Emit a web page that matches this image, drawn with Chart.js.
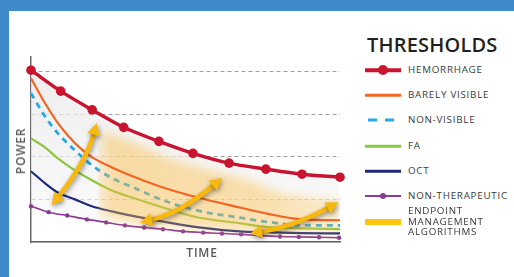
<!DOCTYPE html>
<html><head><meta charset="utf-8">
<script src="https://cdn.jsdelivr.net/npm/chart.js@4"></script>
<style>
html,body{margin:0;padding:0;width:514px;height:277px;overflow:hidden;background:#fff;font-family:"Open Sans",sans-serif;}
#topbar{position:absolute;left:0;top:0;width:514px;height:11px;background:#3F8BCA;}
#leftbar{position:absolute;left:0;top:0;width:9px;height:277px;background:#3F8BCA;}
#wrap{position:absolute;left:9px;top:11px;width:345px;height:240px;}
.ax{position:absolute;color:#58595b;font-weight:600;font-size:12px;letter-spacing:0.8px;white-space:nowrap;line-height:12px;}
#ytitle{left:21px;top:151px;transform:translate(-50%,-50%) rotate(-90deg);}
#xtitle{left:202px;top:253px;transform:translate(-50%,-50%);}
#ltitle{position:absolute;left:367px;top:33px;font-size:20px;font-weight:600;color:#231f20;letter-spacing:0.2px;line-height:24px;white-space:nowrap;}
.row{position:absolute;left:365px;height:20px;}
.sample{position:absolute;left:0;top:10px;width:36px;transform:translateY(-50%);}
.dot{position:absolute;border-radius:50%;transform:translate(-50%,-50%);top:10px;}
.lab{position:absolute;left:43px;top:10px;transform:translateY(-50%);font-size:9.8px;color:#3a3a3a;letter-spacing:0.75px;line-height:10.5px;white-space:nowrap;}
</style></head>
<body>
<div id="topbar"></div><div id="leftbar"></div>
<div id="wrap"><canvas id="c" width="345" height="240"></canvas></div>
<div class="ax" id="ytitle">POWER</div>
<div class="ax" id="xtitle">TIME</div>
<div id="ltitle">THRESHOLDS</div>
<div id="legend"></div>
<script>
// ---- data ----
const seriesLabels = ["HEMORRHAGE","BARELY VISIBLE","NON-VISIBLE","FA","OCT","NON-THERAPEUTIC","ENDPOINT<br>MANAGEMENT<br>ALGORITHMS"];
const timeHem = [0, 0.96, 1.98, 3.0, 4.14, 5.24, 6.41, 7.6, 8.77, 10];
const hemorrhage = [4.03, 3.54, 3.10, 2.69, 2.36, 2.08, 1.85, 1.71, 1.59, 1.52];
const timeCurve = [0, 0.45, 0.87, 1.42, 1.97, 2.62, 3.37, 4.27, 5.37, 6.76, 7.67, 8.77, 10];
const barelyVisible = [3.84, 3.26, 2.79, 2.32, 1.99, 1.75, 1.52, 1.28, 1.05, 0.81, 0.66, 0.53, 0.51];
const nonVisible = [3.49, 2.95, 2.55, 2.15, 1.80, 1.50, 1.26, 0.98, 0.74, 0.57, 0.47, 0.39, 0.39];
const fa = [2.43, 2.22, 1.96, 1.68, 1.45, 1.21, 1.02, 0.81, 0.58, 0.44, 0.35, 0.32, 0.30];
const oct = [1.66, 1.38, 1.16, 1.00, 0.84, 0.72, 0.60, 0.48, 0.35, 0.25, 0.23, 0.21, 0.20];
const timeNonTher = [0, 0.57, 1.17, 1.81, 2.43, 3.04, 3.66, 4.27, 4.92, 5.57, 6.18, 6.80, 7.44, 8.06, 8.67, 9.32, 9.97];
const nonTherapeutic = [0.84, 0.70, 0.62, 0.53, 0.46, 0.39, 0.34, 0.30, 0.25, 0.22, 0.20, 0.18, 0.15, 0.13, 0.12, 0.11, 0.10];
const timeBand = [2.17, 3.2, 4.27, 5.5, 6.76, 8.2, 10];
const bandUpper = [2.62, 2.38, 2.03, 1.75, 1.52, 1.15, 1.0];
const bandLower = [0.62, 0.47, 0.38, 0.31, 0.25, 0.20, 0.18];
const arrowTails = [[0.67, 0.86], [3.53, 0.46], [7.09, 0.20]];
const arrowMids  = [[1.59, 1.85], [4.85, 0.83], [8.51, 0.46]];
const arrowHeads = [[2.13, 2.79], [6.18, 1.50], [9.94, 0.93]];
const gridValues = [0, 1, 2, 3, 4];

const pts = (xs, ys) => xs.map((x, i) => ({x, y: ys[i]}));

const C = {red:'#C8142F', orange:'#F26522', blue:'#29A9E1', green:'#8CC63F', navy:'#1E2B7C', purple:'#8B3A96', yellow:'#FDC40F', arrow:'#F8B80E'};

// ---- legend (HTML) ----
const legendRows = [
  {y:70, line:C.red, w:3.5, dot:10},
  {y:95, line:C.orange, w:2.5},
  {y:120, dash:C.blue, w:3},
  {y:146, line:C.green, w:2.5},
  {y:171, line:C.navy, w:2.5},
  {y:196, line:C.purple, w:2, dot:6},
  {y:222, line:C.yellow, w:6}
];
const lg = document.getElementById('legend');
legendRows.forEach((r, i) => {
  const d = document.createElement('div');
  d.className = 'row'; d.style.top = (r.y - 10) + 'px';
  let s = '';
  if (r.dash) {
    s += `<div class="sample" style="height:${r.w}px;left:3px;width:33px;background:repeating-linear-gradient(90deg, ${r.dash} 0 9px, transparent 9px 17px);"></div>`;
  } else {
    s += `<div class="sample" style="height:${r.w}px;background:${r.line};"></div>`;
  }
  if (r.dot) s += `<div class="dot" style="left:18px;width:${r.dot}px;height:${r.dot}px;background:${r.line};"></div>`;
  s += `<div class="lab">${seriesLabels[i]}</div>`;
  d.innerHTML = s;
  lg.appendChild(d);
});

// ---- plugins ----
const blurBand = {
  id: 'blurBand',
  afterDatasetDraw(chart, args) { if (args.index === 5) { chart.ctx.save(); chart.ctx.filter = 'blur(5px)'; } },
  beforeDatasetDraw(chart, args) { if (args.index === 7) { chart.ctx.restore(); } }
};
const arrows = {
  id: 'arrows',
  afterDatasetsDraw(chart) {
    const ctx = chart.ctx, xs = chart.scales.x, ys = chart.scales.y;
    const P = p => [xs.getPixelForValue(p[0]), ys.getPixelForValue(p[1])];
    for (let i = 0; i < arrowTails.length; i++) {
      const p0 = P(arrowTails[i]), pm = P(arrowMids[i]), p2 = P(arrowHeads[i]);
      const c = [2*pm[0] - (p0[0]+p2[0])/2, 2*pm[1] - (p0[1]+p2[1])/2];
      const dir = (a, b) => { const dx = a[0]-b[0], dy = a[1]-b[1], l = Math.hypot(dx, dy); return [dx/l, dy/l]; };
      const d0 = dir(p0, c), d2 = dir(p2, c);
      const L = 12, H = 6.5;
      ctx.save();
      ctx.shadowColor = 'rgba(0,0,0,0.42)'; ctx.shadowBlur = 5; ctx.shadowOffsetX = 1; ctx.shadowOffsetY = 2;
      ctx.strokeStyle = C.arrow; ctx.fillStyle = C.arrow; ctx.lineWidth = 4.6; ctx.lineCap = 'butt';
      ctx.beginPath();
      ctx.moveTo(p0[0] - d0[0]*(L-2), p0[1] - d0[1]*(L-2));
      ctx.quadraticCurveTo(c[0], c[1], p2[0] - d2[0]*(L-2), p2[1] - d2[1]*(L-2));
      ctx.stroke();
      [[p0, d0], [p2, d2]].forEach(([p, d]) => {
        const bx = p[0] - d[0]*L, by = p[1] - d[1]*L;
        ctx.beginPath();
        ctx.moveTo(p[0], p[1]);
        ctx.lineTo(bx - d[1]*H, by + d[0]*H);
        ctx.lineTo(bx + d[1]*H, by - d[0]*H);
        ctx.closePath(); ctx.fill();
      });
      ctx.restore();
    }
  }
};

const grayFill = (c) => {
  const a = c.chart.chartArea; if (!a) return 'rgba(0,0,0,0)';
  const g = c.chart.ctx.createLinearGradient(0, a.top, 0, a.bottom);
  g.addColorStop(0, 'rgba(232,232,232,0.8)');
  g.addColorStop(0.6, 'rgba(240,240,240,0.65)');
  g.addColorStop(1, 'rgba(250,250,250,0.5)');
  return g;
};
const bandFill = (c) => {
  const ch = c.chart, a = ch.chartArea; if (!a) return 'rgba(0,0,0,0)';
  const x0 = ch.scales.x.getPixelForValue(timeBand[0]) - 12;
  const g = ch.ctx.createLinearGradient(x0, 0, a.right, 0);
  g.addColorStop(0, 'rgba(250,188,70,0)');
  g.addColorStop(0.1, 'rgba(250,188,70,0.45)');
  g.addColorStop(0.7, 'rgba(250,188,70,0.42)');
  g.addColorStop(1, 'rgba(250,188,70,0.25)');
  return g;
};

const line = (label, data, color, w, order, extra) => Object.assign({
  label, data, borderColor: color, backgroundColor: color, borderWidth: w, pointRadius: 0,
  cubicInterpolationMode: 'monotone', fill: false, order, clip: false
}, extra || {});

new Chart(document.getElementById('c'), {
  type: 'line',
  data: { datasets: [
    line('HEMORRHAGE', pts(timeHem, hemorrhage), C.red, 3.4, 1, {pointRadius: 4.8, pointBorderWidth: 0, pointBackgroundColor: C.red}),
    line('BARELY VISIBLE', pts(timeCurve, barelyVisible), C.orange, 2.2, 2),
    line('NON-VISIBLE', pts(timeCurve, nonVisible), C.blue, 2.8, 8, {borderDash: [6, 5]}),
    line('FA', pts(timeCurve, fa), C.green, 2.2, 7),
    line('OCT', pts(timeCurve, oct), C.navy, 2.2, 6),
    line('NON-THERAPEUTIC', pts(timeNonTher, nonTherapeutic), C.purple, 1.6, 5, {pointRadius: 2.2, pointBorderWidth: 0, pointBackgroundColor: C.purple}),
    line('region', pts(timeHem, hemorrhage), 'rgba(0,0,0,0)', 0, 10, {fill: {target: 5}, backgroundColor: grayFill, clip: 0}),
    line('ENDPOINT MANAGEMENT ALGORITHMS', pts(timeBand, bandUpper), 'rgba(0,0,0,0)', 0, 3, {fill: {target: 8}, backgroundColor: bandFill, clip: 0}),
    line('band lower', pts(timeBand, bandLower), 'rgba(0,0,0,0)', 0, 9, {clip: 0})
  ]},
  options: {
    responsive: false, animation: false, devicePixelRatio: 1,
    layout: { padding: {left: 22, top: 46, right: 14, bottom: 9} },
    plugins: { legend: {display: false}, tooltip: {enabled: false}, title: {display: false} },
    scales: {
      x: { type: 'linear', min: 0, max: 10,
        grid: {display: false, drawTicks: false},
        ticks: {display: false},
        border: {display: true, color: '#5a5a5a', width: 1.5} },
      y: { type: 'linear', min: 0, max: 4.34,
        afterBuildTicks: s => { s.ticks = gridValues.map(v => ({value: v})); },
        grid: {drawTicks: false, color: c => (c.tick && c.tick.value === 0) ? 'rgba(0,0,0,0)' : '#a0a0a0', lineWidth: 1},
        ticks: {display: false},
        border: {display: true, color: '#6a6a6a', width: 1.5, dash: [4, 3]} }
    }
  },
  plugins: [blurBand, arrows]
});
</script>
</body></html>
